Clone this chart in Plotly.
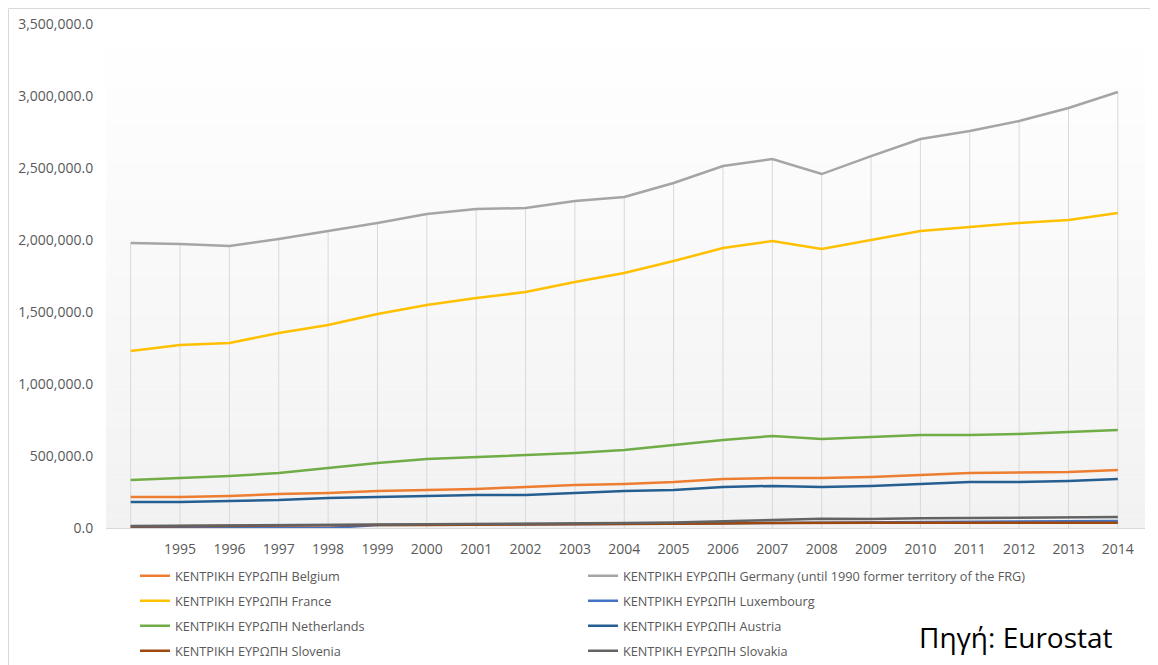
import plotly.graph_objects as go

years = list(range(1994, 2015))
tick_labels = [""] + [str(y) for y in range(1995, 2015)]

belgium = [215000, 215000, 222000, 236000, 243000, 257000, 264000, 271000, 285000, 299000, 306000,
           319000, 340000, 347000, 347000, 354000, 368000, 382000, 385000, 389000, 403000]
germany = [1979000, 1972000, 1958000, 2007000, 2062000, 2118000, 2180000, 2215000, 2222000, 2271000, 2299000,
           2396000, 2514000, 2562000, 2458000, 2583000, 2701000, 2757000, 2826000, 2917000, 3028000]
france = [1229000, 1271000, 1285000, 1354000, 1410000, 1486000, 1549000, 1597000, 1639000, 1708000, 1771000,
          1854000, 1944000, 1993000, 1938000, 2000000, 2062000, 2090000, 2118000, 2139000, 2188000]
luxembourg = [0, 0, 0, 0, 0, 20000, 22000, 23000, 24000, 26000, 27000,
              30000, 33000, 37000, 38000, 37000, 40000, 43000, 44000, 46000, 49000]
netherlands = [333000, 347000, 361000, 382000, 417000, 451000, 479000, 493000, 507000, 521000, 542000,
               576000, 611000, 639000, 618000, 632000, 646000, 646000, 653000, 667000, 681000]
austria = [181000, 181000, 188000, 194000, 208000, 215000, 222000, 229000, 229000, 243000, 257000,
           264000, 285000, 292000, 285000, 292000, 306000, 319000, 319000, 326000, 340000]
slovenia = [10000, 13000, 15000, 17000, 18000, 20000, 21000, 22000, 24000, 25000, 27000,
            29000, 31000, 35000, 38000, 36000, 36000, 37000, 36000, 36000, 37000]
slovakia = [14000, 16000, 19000, 21000, 22000, 21000, 23000, 24000, 26000, 30000, 34000,
            39000, 45000, 55000, 65000, 63000, 68000, 70000, 72000, 74000, 76000]

prefix = "ΚΕΝΤΡΙΚΗ ΕΥΡΩΠΗ "
series = [
    ("Belgium", belgium, "#ED7D31", "legend"),
    ("Germany (until 1990 former territory of the FRG)", germany, "#A5A5A5", "legend"),
    ("France", france, "#FFC000", "legend2"),
    ("Luxembourg", luxembourg, "#4472C4", "legend2"),
    ("Netherlands", netherlands, "#70AD47", "legend3"),
    ("Austria", austria, "#255E91", "legend3"),
    ("Slovenia", slovenia, "#9E480E", "legend4"),
    ("Slovakia", slovakia, "#636363", "legend4"),
]

fig = go.Figure()

# drop lines from highest point to axis
all_vals = [s[1] for s in series]
dx, dy = [], []
for i, yr in enumerate(years):
    top = max(v[i] for v in all_vals)
    dx += [yr, yr, None]
    dy += [0, top, None]
fig.add_trace(go.Scatter(x=dx, y=dy, mode="lines", line=dict(color="#D9D9D9", width=1),
                         showlegend=False, hoverinfo="skip"))

for name, vals, color, leg in series:
    fig.add_trace(go.Scatter(x=years, y=vals, mode="lines", name=prefix + name,
                             line=dict(color=color, width=2.5), legend=leg))

# plot area gradient (white top -> light gray bottom)
shapes = []
n = 40
for k in range(n):
    f = (k + 0.5) / n
    c = round(255 - 13 * f)
    shapes.append(dict(type="rect", xref="x domain", yref="y domain",
                       x0=0, x1=1, y0=1 - (k + 1) / n, y1=1 - k / n,
                       fillcolor=f"rgb({c},{c},{c})", line=dict(width=0), layer="below"))
# outer chart border (figure pixel coords converted to paper fractions)
PL, PT, PW, PH = 98, 16, 1039, 504
shapes.append(dict(type="rect", xref="paper", yref="paper",
                   x0=(0.5 - PL) / PW, x1=(1170 - PL) / PW,
                   y0=(PT + PH - 680) / PH, y1=(PT + PH - 0.5) / PH,
                   line=dict(color="#D9D9D9", width=1), fillcolor="rgba(0,0,0,0)", layer="below"))

legend_common = dict(orientation="h", xanchor="left", yanchor="middle",
                     x=(135 - 106) / 1039, entrywidth=403, entrywidthmode="pixels",
                     font=dict(family="Open Sans", size=12.7, color="#595959"),
                     bgcolor="rgba(0,0,0,0)", itemwidth=30)
rows = [576, 601, 626, 651]

fig.update_layout(
    width=1150, height=657,
    margin=dict(l=PL, r=13, t=PT, b=137, autoexpand=False),
    paper_bgcolor="white", plot_bgcolor="white",
    font=dict(family="Open Sans", color="#595959"),
    shapes=shapes,
    legend=dict(legend_common, y=(528 - rows[0]) / 504),
    legend2=dict(legend_common, y=(528 - rows[1]) / 504),
    legend3=dict(legend_common, y=(528 - rows[2]) / 504),
    legend4=dict(legend_common, y=(528 - rows[3]) / 504),
    xaxis=dict(range=[1993.5, 2014.55], tickvals=years, ticktext=tick_labels,
               showgrid=False, zeroline=False, showline=True, linecolor="#D9D9D9", linewidth=1,
               ticks="outside", ticklen=8, tickcolor="rgba(0,0,0,0)",
               tickfont=dict(family="Open Sans", size=14, color="#595959")),
    yaxis=dict(range=[0, 3500000], dtick=500000, tickformat=",.1f",
               showgrid=False, zeroline=False, showline=False,
               ticks="outside", ticklen=9, tickcolor="rgba(0,0,0,0)",
               tickfont=dict(family="Open Sans", size=14, color="#595959")),
    annotations=[dict(text="Πηγή: Eurostat", xref="paper", yref="paper",
                      x=(1016 - 106) / 1039, y=(528 - 637) / 504,
                      xanchor="center", yanchor="middle", showarrow=False,
                      font=dict(family="Open Sans", size=28, color="black"))],
)

fig.write_html("out.html")
